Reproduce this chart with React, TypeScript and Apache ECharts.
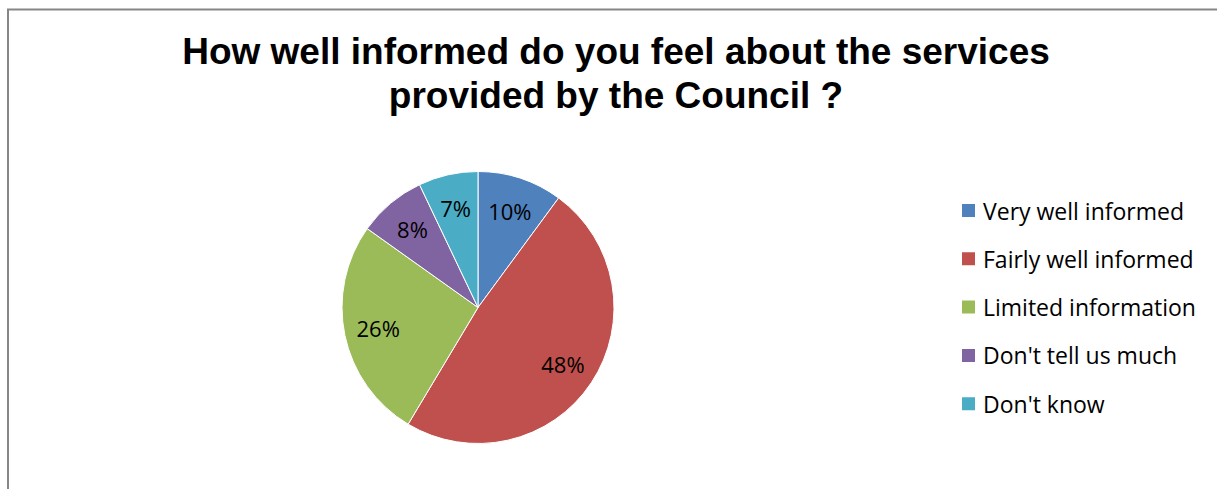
import React, { useEffect, useRef } from "react";
import * as echarts from "echarts";

const titleLines = [
  "How well informed do you feel about the services",
  "provided by the Council ?",
];
const categories = [
  "Very well informed",
  "Fairly well informed",
  "Limited information",
  "Don't tell us much",
  "Don't know",
];
const values = [10, 48, 26, 8, 7];
const colors = ["#4F81BD", "#C0504D", "#9BBB59", "#8064A2", "#4BACC6"];

export default function App() {
  const ref = useRef<HTMLDivElement>(null);
  useEffect(() => {
    if (!ref.current) return;
    const chart = echarts.init(ref.current, null, { renderer: "svg" });
    const data = categories.map((name, i) => ({ name, value: values[i] }));
    chart.setOption({
      animation: false,
      color: colors,
      graphic: [
        {
          type: "rect",
          shape: { x: 8, y: 9.5, width: 1400, height: 700 },
          style: { fill: "none", stroke: "#868686", lineWidth: 2 },
          silent: true,
        },
        ...titleLines.map((t, i) => ({
          type: "text",
          x: 616,
          y: 70 + i * 44,
          style: {
            text: t,
            fill: "#000",
            font: "bold 37px 'Liberation Sans', Arial, sans-serif",
            textAlign: "center",
            textVerticalAlign: "bottom",
          },
        })),
      ],
      legend: {
        orient: "vertical",
        left: 955,
        top: 194,
        padding: 5,
        itemWidth: 15,
        itemHeight: 15,
        itemGap: 25.3,
        icon: "rect",
        data: categories,
        textStyle: {
          fontFamily: "'Open Sans', sans-serif",
          fontSize: 23,
          color: "#000",
          padding: [0, 0, 0, 2],
        },
      },
      series: [
        {
          type: "pie",
          center: [478, 307.5],
          radius: [0, 136],
          startAngle: 90,
          clockwise: true,
          data,
          label: { show: false },
          labelLine: { show: false },
          itemStyle: { borderColor: "#fff", borderWidth: 1 },
          emphasis: { disabled: true },
        },
        {
          type: "pie",
          center: [478, 307.5],
          radius: [62, 136],
          startAngle: 90,
          clockwise: true,
          silent: true,
          data,
          itemStyle: { color: "transparent", borderWidth: 0 },
          label: {
            show: true,
            position: "inside",
            formatter: "{c}%",
            fontFamily: "'Open Sans', sans-serif",
            fontSize: 22,
            color: "#000",
          },
          labelLine: { show: false },
          emphasis: { disabled: true },
        },
      ],
    });
    return () => chart.dispose();
  }, []);
  return (
    <div
      ref={ref}
      style={{ position: "absolute", left: 0, top: 0, width: 1217, height: 489 }}
    />
  );
}
